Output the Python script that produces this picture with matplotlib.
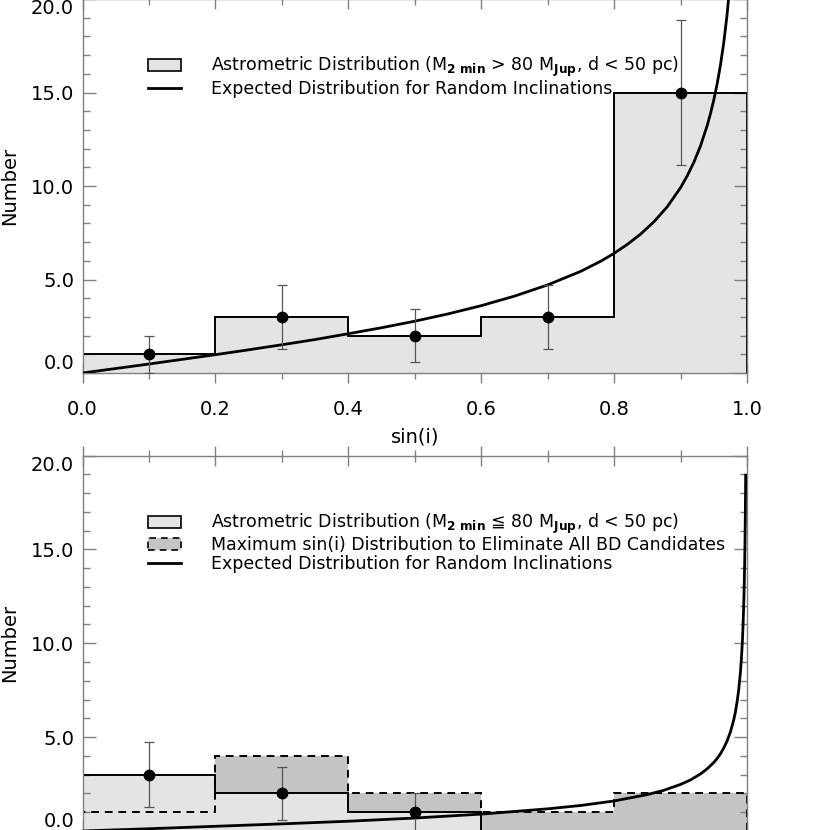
import matplotlib
matplotlib.use('Agg')
import matplotlib.pyplot as plt
from matplotlib.patches import Patch
from matplotlib.lines import Line2D

plt.rcParams['font.family'] = ['DejaVu Sans']
plt.rcParams['mathtext.fontset'] = 'dejavusans'

# histogram bins in sin(i)
edges = [0.0, 0.2, 0.4, 0.6, 0.8, 1.0]
centers = [0.1, 0.3, 0.5, 0.7, 0.9]

# top panel: M2 min > 80 MJup
top_counts = [1, 3, 2, 3, 15]
top_err = [1.0, 1.73, 1.41, 1.73, 3.87]

# bottom panel: M2 min <= 80 MJup, and max sin(i) distribution
bot_counts = [3, 2, 1, 0, 0]
bot_err = [1.73, 1.41, 1.0, 0.0, 0.0]
bot_max = [1, 4, 2, 1, 2]

# expected curves for random inclinations
top_curve_x = [0.0, 0.05, 0.1, 0.15, 0.2, 0.25, 0.3, 0.35, 0.4, 0.45, 0.5, 0.55, 0.6,
               0.65, 0.7, 0.75, 0.78, 0.8, 0.82, 0.84, 0.86, 0.88, 0.9, 0.91, 0.92,
               0.93, 0.94, 0.945, 0.95, 0.955, 0.96, 0.965, 0.97, 0.975]
top_curve_y = [0.0, 0.24, 0.48, 0.73, 0.98, 1.24, 1.51, 1.79, 2.10, 2.42, 2.77, 3.16, 3.60,
               4.11, 4.71, 5.44, 5.98, 6.40, 6.88, 7.43, 8.09, 8.89, 9.91, 10.54, 11.27,
               12.14, 13.22, 13.87, 14.60, 15.45, 16.46, 17.66, 19.15, 21.06]
bot_curve_x = [0.0, 0.1, 0.2, 0.3, 0.4, 0.5, 0.6, 0.7, 0.75, 0.8, 0.85, 0.875, 0.9, 0.915,
               0.93, 0.94, 0.95, 0.955, 0.96, 0.965, 0.97, 0.975, 0.98, 0.9825, 0.985,
               0.9875, 0.99, 0.9915, 0.993, 0.994, 0.995, 0.996, 0.9965, 0.997, 0.9975, 0.998]
bot_curve_y = [0.0, 0.12, 0.25, 0.38, 0.52, 0.69, 0.90, 1.18, 1.36, 1.60, 1.94, 2.17, 2.48, 2.72,
               3.04, 3.31, 3.65, 3.86, 4.11, 4.42, 4.79, 5.27, 5.91, 6.33, 6.86,
               7.52, 8.42, 9.14, 10.05, 10.90, 11.95, 13.37, 14.30, 15.45, 16.93, 18.95]

light = '#e4e4e4'
dark = '#c4c4c4'
axcol = '#808080'

top_labels = [r'Astrometric Distribution (M$_{\mathbf{2\ min}}$ > 80 M$_{\mathbf{Jup}}$, d < 50 pc)',
              'Expected Distribution for Random Inclinations']
bot_labels = [r'Astrometric Distribution (M$_{\mathbf{2\ min}}$ ≦ 80 M$_{\mathbf{Jup}}$, d < 50 pc)',
              'Maximum sin(i) Distribution to Eliminate All BD Candidates',
              'Expected Distribution for Random Inclinations']


def style_axes(ax):
    ax.set_xlim(0, 1)
    ax.set_ylim(0, 20)
    ax.set_xticks([0.0, 0.2, 0.4, 0.6, 0.8, 1.0])
    ax.set_xticks([0.1, 0.3, 0.5, 0.7, 0.9], minor=True)
    ax.set_yticks([0, 5, 10, 15, 20], ['0.0', '5.0', '10.0', '15.0', '20.0'])
    ax.set_yticks(range(0, 21), minor=True)
    ax.set_xticklabels(['0.0', '0.2', '0.4', '0.6', '0.8', '1.0'])
    ax.tick_params(axis='x', which='both', direction='inout', top=True, colors=axcol,
                   labelcolor='black', labelsize=14, pad=12)
    ax.tick_params(axis='x', which='major', length=14.4, width=1)
    ax.tick_params(axis='x', which='minor', length=8, width=1)
    ax.tick_params(axis='y', which='both', direction='in', right=True, colors=axcol,
                   labelcolor='black', labelsize=14, pad=6)
    ax.tick_params(axis='y', which='major', length=9.4, width=1)
    ax.tick_params(axis='y', which='minor', length=5, width=1)
    for s in ax.spines.values():
        s.set_color(axcol)
        s.set_linewidth(1.0)
    ylabs = ax.get_yticklabels()
    ylabs[0].set_va('bottom')
    ylabs[-1].set_va('top')
    # fills hide the inner part of the x ticks, like the original
    ax.xaxis.set_zorder(0.5)
    ax.set_ylabel('Number', fontsize=14)
    ax.yaxis.set_label_coords(-0.095, 0.5)


fig = plt.figure(figsize=(8.3, 8.3), dpi=100)
ax1 = fig.add_axes([0.0994, 0.5506, 0.8006, 0.4506])
ax2 = fig.add_axes([0.0994, -0.0012, 0.8006, 0.4524])

# top panel
ax1.stairs(top_counts, edges, fill=True, facecolor=light, edgecolor='none', baseline=0, zorder=1)
ax1.stairs(top_counts, edges, color='black', lw=1.4, baseline=0, zorder=2)
ax1.plot(top_curve_x, top_curve_y, color='black', lw=2.0, zorder=3)
ax1.errorbar(centers, top_counts, yerr=top_err, fmt='o', color='black', ms=7.5,
             ecolor='#555555', elinewidth=0.9, capsize=3.5, capthick=0.9, zorder=4)
style_axes(ax1)
ax1.set_xlabel('sin(i)', fontsize=14, labelpad=6)
h1 = [Patch(facecolor=light, edgecolor='black', lw=1.2),
      Line2D([], [], color='black', lw=2.0)]
ax1.legend(h1, top_labels, loc='upper left', bbox_to_anchor=(0.0986, 0.85), frameon=False,
           fontsize=12.5, handlelength=1.9, handletextpad=1.7, labelspacing=0.02,
           borderpad=0, borderaxespad=0)

# bottom panel (its x labels fall below the picture)
ax2.stairs(bot_max, edges, fill=True, facecolor=dark, edgecolor='none', baseline=0, zorder=1)
ax2.stairs(bot_counts, edges, fill=True, facecolor=light, edgecolor='none', baseline=0, zorder=1.1)
ax2.stairs(bot_counts, edges, color='black', lw=1.4, baseline=0, zorder=2)
ax2.stairs(bot_max, edges, color='black', lw=1.4, ls=(0, (4, 3)), baseline=0, zorder=2.1)
ax2.plot(bot_curve_x, bot_curve_y, color='black', lw=2.0, zorder=3)
px = [c for c, n in zip(centers, bot_counts) if n > 0]
py = [n for n in bot_counts if n > 0]
pe = [e for e, n in zip(bot_err, bot_counts) if n > 0]
ax2.errorbar(px, py, yerr=pe, fmt='o', color='black', ms=7.5,
             ecolor='#555555', elinewidth=0.9, capsize=3.5, capthick=0.9, zorder=4)
style_axes(ax2)
ax2.tick_params(axis='x', labelbottom=False)
h2 = [Patch(facecolor=light, edgecolor='black', lw=1.2),
      Patch(facecolor=dark, edgecolor='black', lw=1.2, ls=(0, (4, 3))),
      Line2D([], [], color='black', lw=2.0)]
ax2.legend(h2, bot_labels, loc='upper left', bbox_to_anchor=(0.0986, 0.85), frameon=False,
           fontsize=12.5, handlelength=1.9, handletextpad=1.7, labelspacing=0.02,
           borderpad=0, borderaxespad=0)

fig.savefig('out.png', dpi=100)
